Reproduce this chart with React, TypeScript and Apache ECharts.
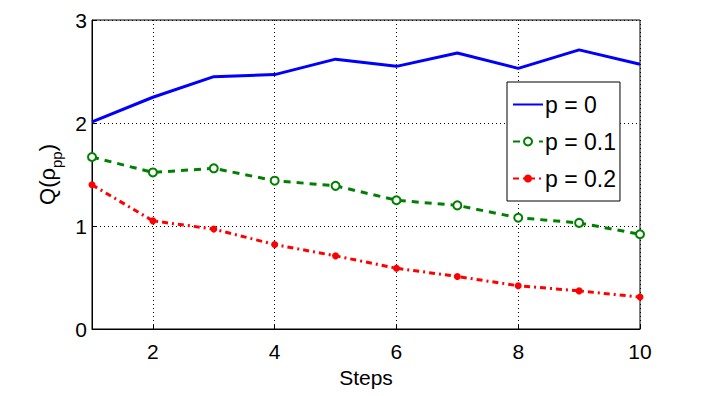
import React, { useEffect, useRef } from "react";
import * as echarts from "echarts";

const steps = [1, 2, 3, 4, 5, 6, 7, 8, 9, 10];
const p0 = [2.01, 2.25, 2.45, 2.47, 2.62, 2.55, 2.68, 2.53, 2.71, 2.57];
const p01 = [1.67, 1.52, 1.56, 1.44, 1.39, 1.25, 1.2, 1.08, 1.03, 0.92];
const p02 = [1.4, 1.05, 0.97, 0.82, 0.71, 0.59, 0.51, 0.42, 0.37, 0.31];
const xTicks = [2, 4, 6, 8, 10];
const seriesNames = ["p = 0", "p = 0.1", "p = 0.2"];

const FONT = "Liberation Sans";

export default function App() {
  const ref = useRef<HTMLDivElement>(null);
  useEffect(() => {
    if (!ref.current) return;
    const chart = echarts.init(ref.current, null, { renderer: "svg" });
    const pair = (arr: number[]) => steps.map((s, i) => [s, arr[i]]);
    chart.setOption({
      animation: false,
      backgroundColor: "#fff",
      textStyle: { fontFamily: FONT },
      grid: {
        left: 92,
        right: 67,
        top: 20,
        bottom: 67,
        show: true,
        borderColor: "#000",
        borderWidth: 1,
        backgroundColor: "transparent",
      },
      legend: {
        orient: "vertical",
        left: 507,
        top: 82,
        width: 115,
        itemWidth: 30,
        itemHeight: 10,
        itemGap: 14,
        padding: [11, 4, 11, 5],
        backgroundColor: "#fff",
        borderColor: "#000",
        borderWidth: 1,
        borderRadius: 0,
        textStyle: { fontSize: 23, color: "#000", fontFamily: FONT, padding: [0, 0, 0, -3] },
        data: [
          { name: seriesNames[0], itemStyle: { opacity: 0 } },
          { name: seriesNames[1] },
          { name: seriesNames[2] },
        ],
      },
      xAxis: {
        type: "value",
        min: 1,
        max: 10,
        name: "Steps",
        nameLocation: "middle",
        nameGap: 35,
        nameTextStyle: { fontSize: 21, color: "#000", fontFamily: FONT, letterSpacing: 1 },
        axisLine: { show: true, lineStyle: { color: "#000", width: 1 } },
        axisTick: { show: true, inside: true, length: 5, lineStyle: { color: "#000" }, customValues: xTicks },
        axisLabel: { fontSize: 21, color: "#000", margin: 12, fontFamily: FONT, customValues: xTicks },
        splitLine: { show: false },
      },
      yAxis: {
        type: "value",
        min: 0,
        max: 3,
        interval: 1,
        name: "{a|Q(ρ}{sub|pp}{a|)}",
        nameLocation: "middle",
        nameGap: 30,
        nameTextStyle: {
          fontSize: 22,
          color: "#000",
          fontFamily: FONT,
          rich: {
            a: { fontSize: 22, lineHeight: 24, color: "#000", fontFamily: FONT, verticalAlign: "top" },
            sub: { fontSize: 15, lineHeight: 16, color: "#000", fontFamily: FONT, verticalAlign: "top", padding: [13, 0, 0, 0] },
          },
        },
        axisLine: { show: true, lineStyle: { color: "#000", width: 1 } },
        axisTick: { show: true, inside: true, length: 5, lineStyle: { color: "#000" } },
        axisLabel: { fontSize: 21, color: "#000", margin: 5, fontFamily: FONT },
        splitLine: { show: true, lineStyle: { color: "#000", type: [1, 3], width: 1 } },
      },
      series: [
        {
          name: seriesNames[0],
          type: "line",
          data: pair(p0),
          symbol: "none",
          lineStyle: { color: "#0000ff", width: 3 },
          itemStyle: { color: "#0000ff" },
          z: 5,
          markLine: {
            silent: true,
            symbol: "none",
            label: { show: false },
            lineStyle: { color: "#000", type: [1, 3], width: 1 },
            data: xTicks.map((v) => ({ xAxis: v })),
            z: 1,
          },
        },
        {
          name: seriesNames[1],
          type: "line",
          data: pair(p01),
          symbol: "emptyCircle",
          symbolSize: 8,
          lineStyle: { color: "#008000", width: 3, type: [7, 6] },
          itemStyle: { color: "#008000", borderColor: "#008000", borderWidth: 4 },
          z: 5,
        },
        {
          name: seriesNames[2],
          type: "line",
          data: pair(p02),
          symbol: "circle",
          symbolSize: 7,
          lineStyle: { color: "#ff0000", width: 3, type: [6, 4, 2, 4] },
          itemStyle: { color: "#ff0000" },
          z: 5,
        },
      ],
    });
    return () => chart.dispose();
  }, []);
  return <div ref={ref} style={{ width: 707, height: 396, position: "absolute", left: 0, top: 0 }} />;
}
